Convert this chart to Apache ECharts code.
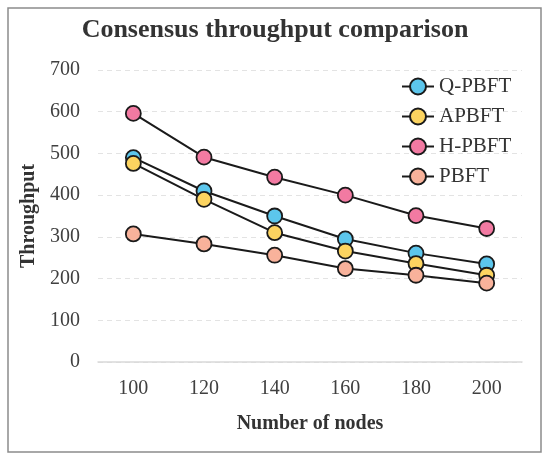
<!DOCTYPE html>
<html>
<head>
<meta charset="utf-8">
<title>throughput</title>
<script src="https://cdn.jsdelivr.net/npm/echarts@6/dist/echarts.min.js"></script>
</head>
<body style="margin:0;background:#fff;">
<div id="main" style="width:550px;height:460px;"></div>
<script type="text/javascript">
    var nodes = ['100', '120', '140', '160', '180', '200'];
    var seriesNames = ['Q-PBFT', 'APBFT', 'H-PBFT', 'PBFT'];
    var qpbft = [490, 410, 350, 295, 261, 235];
    var apbft = [476, 390, 310, 266, 236, 208];
    var hpbft = [596, 491, 443, 400, 351, 320];
    var pbft = [307, 283, 256, 224, 208, 189];
    var colors = ['#5cc6ec', '#fcd460', '#f27aa2', '#f8b29b'];

    var myChart = echarts.init(document.getElementById('main'));
    var font = '"Liberation Serif", "Times New Roman", serif';

    function makeSeries(name, values, i) {
        return {
            name: name,
            type: 'line',
            data: values,
            symbol: 'circle',
            symbolSize: 15,
            lineStyle: {color: '#1a1a1a', width: 2},
            itemStyle: {color: colors[i], borderColor: '#1a1a1a', borderWidth: 1.8}
        };
    }

    myChart.setOption({
        animation: false,
        backgroundColor: '#fff',
        title: {
            text: 'Consensus throughput comparison',
            left: 'center',
            top: 12,
            textStyle: {fontFamily: font, fontSize: 26, fontWeight: 'bold', color: '#333'}
        },
        legend: {
            data: seriesNames,
            orient: 'vertical',
            left: 396,
            top: 71,
            itemGap: 9,
            itemWidth: 32,
            itemHeight: 20,
            textStyle: {fontFamily: font, fontSize: 21, color: '#333'}
        },
        grid: {left: 98, right: 28, top: 70, bottom: 98},
        xAxis: {
            type: 'category',
            data: nodes,
            name: 'Number of nodes',
            nameLocation: 'middle',
            nameGap: 52,
            nameTextStyle: {fontFamily: font, fontSize: 20, fontWeight: 'bold', color: '#333'},
            axisLine: {lineStyle: {color: '#d9d9d9', width: 1.5}},
            axisTick: {show: false},
            axisLabel: {fontFamily: font, fontSize: 20, color: '#404040', margin: 17}
        },
        yAxis: {
            type: 'value',
            min: 0,
            max: 700,
            interval: 100,
            name: 'Throughput',
            nameLocation: 'middle',
            nameGap: 58,
            nameTextStyle: {fontFamily: font, fontSize: 20, fontWeight: 'bold', color: '#333'},
            axisLine: {show: false},
            axisTick: {show: false},
            axisLabel: {fontFamily: font, fontSize: 20, color: '#404040', margin: 18},
            splitLine: {lineStyle: {color: '#e3e3e3', type: [5, 4]}}
        },
        graphic: [{
            type: 'rect',
            shape: {x: 8, y: 8, width: 533, height: 444},
            style: {fill: 'none', stroke: '#8c8c8c', lineWidth: 1.5},
            z: -1
        }],
        series: [
            makeSeries(seriesNames[0], qpbft, 0),
            makeSeries(seriesNames[1], apbft, 1),
            makeSeries(seriesNames[2], hpbft, 2),
            makeSeries(seriesNames[3], pbft, 3)
        ]
    });
</script>
</body>
</html>
